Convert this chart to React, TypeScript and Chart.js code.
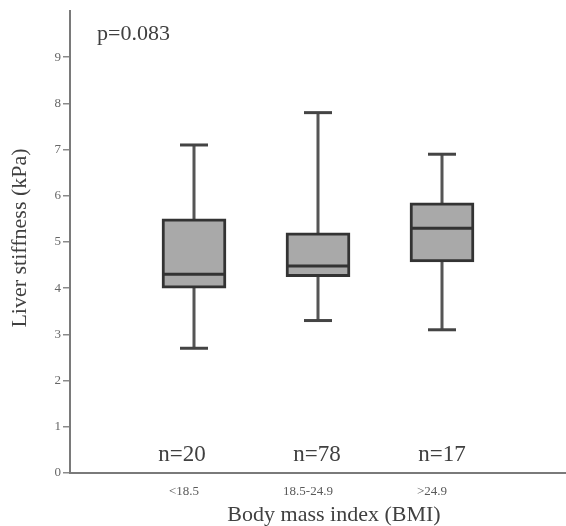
import React, { useEffect, useRef } from "react";
import { Chart, registerables } from "chart.js";

Chart.register(...registerables);

const categories = ["<18.5", "18.5-24.9", ">24.9"];
const nLabels = ["n=20", "n=78", "n=17"];
const whiskerMin = [2.7, 3.3, 3.1];
const q1 = [4.0, 4.25, 4.57];
const median = [4.3, 4.48, 5.3];
const q3 = [5.5, 5.2, 5.85];
const whiskerMax = [7.1, 7.8, 6.9];
const yTicks = [0, 1, 2, 3, 4, 5, 6, 7, 8, 9];
const pText = "p=0.083";
const xTitle = "Body mass index (BMI)";
const yTitle = "Liver stiffness (kPa)";

// label nudges (pixels), styling only
const nLabelNudge = [-12, -1, 0];

const SERIF = "'Liberation Serif', 'DejaVu Serif', serif";

export default function App() {
  const ref = useRef<HTMLCanvasElement | null>(null);
  useEffect(() => {
    if (!ref.current) return;
    const pos = categories.map((_, i) => i + 1);

    const whiskerData: any[] = [];
    pos.forEach((x, i) => {
      whiskerData.push({ x, y: whiskerMin[i] });
      whiskerData.push({ x, y: whiskerMax[i] });
      whiskerData.push({ x, y: null });
    });

    const textPlugin = {
      id: "texts",
      afterDraw(chart: any) {
        const { ctx, scales } = chart;
        const xs = scales.x;
        const ys = scales.y;
        ctx.save();
        ctx.fillStyle = "#404040";
        ctx.textAlign = "center";
        ctx.textBaseline = "middle";
        ctx.font = `23px ${SERIF}`;
        pos.forEach((x, i) => {
          ctx.fillText(nLabels[i], xs.getPixelForValue(x) + nLabelNudge[i], ys.getPixelForValue(0.39));
        });
        ctx.font = `22px ${SERIF}`;
        ctx.textAlign = "left";
        ctx.fillText(pText, 97, 34);
        ctx.textAlign = "center";
        ctx.fillText(xTitle, 334, 515);
        ctx.translate(20, 238);
        ctx.rotate(-Math.PI / 2);
        ctx.fillText(yTitle, 0, 0);
        ctx.restore();
      },
    };

    const chart = new Chart(ref.current, {
      type: "bar",
      data: {
        datasets: [
          {
            type: "bar",
            label: "box",
            data: pos.map((x, i) => ({ x, y: [q1[i], q3[i]] })) as any,
            backgroundColor: "#a9a9a9",
            borderColor: "#333333",
            borderWidth: 3,
            borderSkipped: false,
            barThickness: 64,
            grouped: false,
            order: 1,
          } as any,
          {
            type: "line",
            label: "whisker",
            data: whiskerData,
            borderColor: "#555555",
            borderWidth: 3,
            pointRadius: 0,
            spanGaps: false,
            order: 3,
          } as any,
          {
            type: "scatter",
            label: "caps",
            data: pos.flatMap((x, i) => [
              { x, y: whiskerMin[i] },
              { x, y: whiskerMax[i] },
            ]),
            pointStyle: "line",
            pointRadius: 14,
            pointBorderWidth: 3,
            pointBorderColor: "#444444",
            order: 2,
          } as any,
          {
            type: "scatter",
            label: "median",
            data: pos.map((x, i) => ({ x, y: median[i] })),
            pointStyle: "line",
            pointRadius: 31,
            pointBorderWidth: 3,
            pointBorderColor: "#333333",
            order: 0,
          } as any,
        ],
      },
      options: {
        responsive: false,
        animation: false,
        layout: { autoPadding: false, padding: { top: 11, right: 0, left: 0, bottom: 0 } },
        plugins: {
          legend: { display: false },
          tooltip: { enabled: false },
        },
        scales: {
          x: {
            type: "linear",
            min: 0,
            max: 4,
            offset: false,
            afterFit(scale: any) {
              scale.height = 53;
              scale.paddingRight = 0;
              scale.paddingLeft = 0;
            },
            afterBuildTicks(scale: any) {
              scale.ticks = pos.map((v) => ({ value: v }));
            },
            grid: { display: false, drawTicks: false, offset: false },
            border: { display: true, color: "#7a7a7a", width: 2 },
            ticks: {
              padding: 11,
              labelOffset: -10,
              maxRotation: 0,
              autoSkip: false,
              color: "#5a5a5a",
              font: { family: SERIF, size: 13 },
              callback: (v: any) => categories[Number(v) - 1] ?? "",
            },
          },
          y: {
            type: "linear",
            min: 0,
            max: 10,
            afterFit(scale: any) {
              scale.width = 70;
              scale.paddingTop = 0;
              scale.paddingBottom = 0;
            },
            afterBuildTicks(scale: any) {
              scale.ticks = yTicks.map((v) => ({ value: v }));
            },
            grid: {
              drawOnChartArea: false,
              drawTicks: true,
              tickLength: 7,
              color: "#8a8a8a",
              lineWidth: 1.5,
            },
            border: { display: true, color: "#7a7a7a", width: 2 },
            ticks: {
              padding: 2,
              color: "#666666",
              font: { family: SERIF, size: 13 },
            },
          },
        },
      } as any,
      plugins: [textPlugin],
    });
    return () => chart.destroy();
  }, []);

  return (
    <div style={{ position: "absolute", left: 0, top: 0, width: 566, height: 526, background: "#fff" }}>
      <canvas ref={ref} width={566} height={526} style={{ width: 566, height: 526 }} />
    </div>
  );
}
